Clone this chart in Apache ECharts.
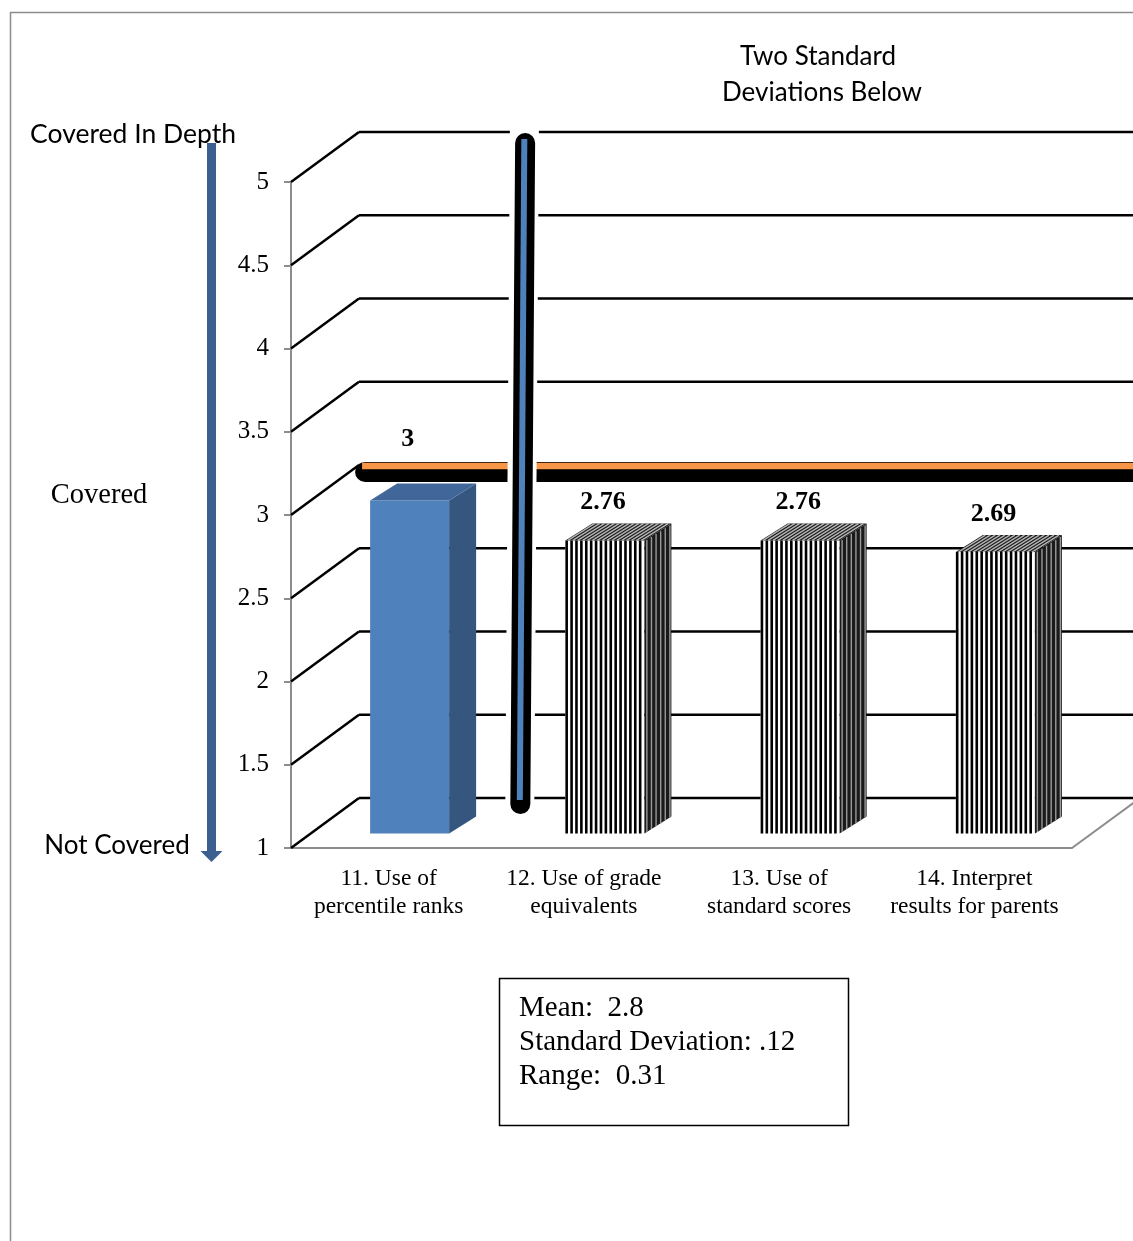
<!DOCTYPE html>
<html>
<head>
<meta charset="utf-8">
<script src="https://cdn.jsdelivr.net/npm/echarts@6/dist/echarts.min.js"></script>
<style>
  html, body { margin: 0; padding: 0; background: #fff; }
  #chart { width: 1133px; height: 1241px; }
</style>
</head>
<body>
<div id="chart"></div>
<script>
// ---------------- data ----------------
const categories = [
  '11. Use of\npercentile ranks',
  '12. Use of grade\nequivalents',
  '13. Use of\nstandard scores',
  '14. Interpret\nresults for parents'
];
const values = [3, 2.76, 2.76, 2.69];
const valueLabels = ['3', '2.76', '2.76', '2.69'];
const yTickValues = [1, 1.5, 2, 2.5, 3, 3.5, 4, 4.5, 5];
const yMin = 1, yMax = 5, yInterval = 0.5;
// annotation lines in data units (x on a continuous category scale, y on value scale)
const cutoffLine = [[-0.136, 3.294], [3.90, 3.294]];
const markerLine = [[0.695, 5.258], [0.672, 1.288]];
const statsLines = ['Mean:  2.8', 'Standard Deviation: .12', 'Range:  0.31'];
const titleLines = ['Two Standard', 'Deviations Below'];

// ---------------- style constants ----------------
const SERIF = '"Liberation Serif", "Times New Roman", serif';
const SANS = 'Lato, "Open Sans", sans-serif';
const DEPTH_DX = 68, DEPTH_DY = -50;
const BAR_SHIFT_X = 21, BAR_SHIFT_Y = -14.5, BAR_W = 79;
const SIDE_DX = 27, SIDE_DY = -17;
const LABEL_GAP = 38;
const labelLift = [23, 0, 0, 0];
const barKinds = ['solid', 'hatch', 'hatch', 'hatch'];

const chart = echarts.init(document.getElementById('chart'), null, { renderer: 'canvas' });

function gridRender(params, api) {
  const v = api.value(0);
  const cs = params.coordSys;
  const y = api.coord([0, v])[1];
  const x0 = cs.x;
  const children = [
    { type: 'line', shape: { x1: x0, y1: y, x2: x0 + DEPTH_DX, y2: y + DEPTH_DY },
      style: { stroke: '#000', lineWidth: 2.5 } },
    { type: 'line', shape: { x1: x0 + DEPTH_DX, y1: y + DEPTH_DY, x2: cs.x + cs.width + 90, y2: y + DEPTH_DY },
      style: { stroke: '#000', lineWidth: 2.5 } }
  ];
  if (params.dataIndex === 0) {
    const xr = cs.x + cs.width;
    children.push({ type: 'line', shape: { x1: xr, y1: y, x2: xr + DEPTH_DX, y2: y + DEPTH_DY },
      style: { stroke: '#8c8c8c', lineWidth: 2 } });
  }
  return { type: 'group', children };
}

function barRender(params, api) {
  const i = api.value(0), v = api.value(1);
  const top = api.coord([i, v]);
  const base = api.coord([i, yMin]);
  const cx = top[0] + BAR_SHIFT_X;
  const x0 = cx - BAR_W / 2, x1 = cx + BAR_W / 2;
  const yt = top[1] + BAR_SHIFT_Y, yb = base[1] + BAR_SHIFT_Y;
  const children = [];
  const sidePts = [[x1, yt], [x1 + SIDE_DX, yt + SIDE_DY], [x1 + SIDE_DX, yb + SIDE_DY], [x1, yb]];
  const topPts = [[x0, yt], [x0 + SIDE_DX, yt + SIDE_DY], [x1 + SIDE_DX, yt + SIDE_DY], [x1, yt]];
  if (barKinds[i] === 'solid') {
    children.push({ type: 'rect', shape: { x: x0, y: yt, width: BAR_W, height: yb - yt }, style: { fill: '#4F81BD' } });
    children.push({ type: 'polygon', shape: { points: sidePts }, style: { fill: '#34567F' } });
    children.push({ type: 'polygon', shape: { points: topPts }, style: { fill: '#41679A' } });
  } else {
    children.push({ type: 'rect', shape: { x: x0, y: yt, width: BAR_W, height: yb - yt }, style: { fill: '#fff' } });
    for (let x = x0 + 1.3; x < x1; x += 4.9) {
      children.push({ type: 'line', shape: { x1: x, y1: yt, x2: x, y2: yb }, style: { stroke: '#000', lineWidth: 2.6 } });
    }
    children.push({ type: 'polygon', shape: { points: sidePts }, style: { fill: '#1a1a1a' } });
    const slope = SIDE_DY / SIDE_DX;
    for (let x = x1 + 2.5; x < x1 + SIDE_DX - 1; x += 4.6) {
      const d = (x - x1) * slope;
      children.push({ type: 'line', shape: { x1: x, y1: yt + d + 1, x2: x, y2: yb + d }, style: { stroke: '#9a9a9a', lineWidth: 1.4 } });
    }
    children.push({ type: 'polygon', shape: { points: topPts }, style: { fill: '#1a1a1a' } });
    for (let x = x0 + 2.5; x < x1; x += 4.9) {
      children.push({ type: 'line', shape: { x1: x, y1: yt, x2: x + SIDE_DX, y2: yt + SIDE_DY }, style: { stroke: '#b5b5b5', lineWidth: 1.4 } });
    }
  }
  children.push({
    type: 'text',
    style: {
      x: cx - 2, y: yt - LABEL_GAP - labelLift[i],
      text: valueLabels[i], align: 'center', verticalAlign: 'middle',
      font: 'bold 26px ' + SERIF, fill: '#000'
    }
  });
  return { type: 'group', children };
}

function annotRender(params, api) {
  const a0 = api.coord(cutoffLine[0]), a1 = api.coord(cutoffLine[1]);
  const b0 = api.coord(markerLine[0]), b1 = api.coord(markerLine[1]);
  const len = Math.hypot(b1[0] - b0[0], b1[1] - b0[1]);
  const ux = (b1[0] - b0[0]) / len, uy = (b1[1] - b0[1]) / len;
  return {
    type: 'group',
    children: [
      { type: 'line', shape: { x1: a0[0] + 3, y1: a0[1] + 6, x2: a1[0] + 3, y2: a1[1] + 6 },
        style: { stroke: '#000', lineWidth: 20, lineCap: 'round' } },
      { type: 'line', shape: { x1: a0[0], y1: a0[1], x2: a1[0], y2: a1[1] },
        style: { stroke: '#F79646', lineWidth: 6.5, lineCap: 'butt' } },
      { type: 'line', shape: { x1: b0[0] - ux * 14, y1: b0[1] - uy * 14, x2: b1[0] + ux * 20, y2: b1[1] + uy * 20 },
        style: { stroke: '#fff', lineWidth: 29, lineCap: 'butt' } },
      { type: 'line', shape: { x1: b0[0] + 0.8, y1: b0[1] + 4, x2: b1[0] + 0.5, y2: b1[1] + 4 },
        style: { stroke: '#000', lineWidth: 20, lineCap: 'round' } },
      { type: 'line', shape: { x1: b0[0], y1: b0[1], x2: b1[0], y2: b1[1] },
        style: { stroke: '#4F81BD', lineWidth: 6, lineCap: 'butt' } }
    ]
  };
}

const option = {
  backgroundColor: '#fff',
  animation: false,
  grid: { left: 291, right: 61, top: 182, bottom: 393, containLabel: false, outerBoundsMode: 'none' },
  xAxis: [
    {
      type: 'category', data: categories, boundaryGap: true,
      axisLine: { show: true, onZero: false, lineStyle: { color: '#8c8c8c', width: 2 } },
      axisTick: { show: false },
      axisLabel: { interval: 0, margin: 17, fontFamily: SERIF, fontSize: 23.5, lineHeight: 28, color: '#000', hideOverlap: false },
      splitLine: { show: false }
    },
    { type: 'value', min: -0.5, max: 3.5, show: false }
  ],
  yAxis: {
    type: 'value', min: yMin, max: yMax, interval: yInterval,
    axisLine: { show: true, onZero: false, lineStyle: { color: '#8c8c8c', width: 2 } },
    axisTick: { show: true, length: 7, lineStyle: { color: '#8c8c8c', width: 2 } },
    axisLabel: { margin: 22, fontFamily: SERIF, fontSize: 25, color: '#000', padding: [5, 0, 0, 0] },
    splitLine: { show: false }
  },
  series: [
    { type: 'custom', name: 'grid', xAxisIndex: 0, yAxisIndex: 0, z: 1, silent: true,
      data: yTickValues.map(v => [v]), encode: { y: 0 }, renderItem: gridRender },
    { type: 'custom', name: 'bars', xAxisIndex: 0, yAxisIndex: 0, z: 2,
      data: values.map((v, i) => [i, v]), encode: { x: 0, y: 1 }, renderItem: barRender },
    { type: 'custom', name: 'annot', xAxisIndex: 1, yAxisIndex: 0, z: 3, silent: true,
      data: [[0, yMin]], encode: { x: 0, y: 1 }, renderItem: annotRender }
  ],
  graphic: [
    { type: 'rect', shape: { x: 10.5, y: 12.5, width: 1300, height: 1400 }, style: { fill: null, stroke: '#8c8c8c', lineWidth: 1.5 }, z: 0 },
    { type: 'text', style: { x: 818, y: 57, text: titleLines[0], align: 'center', verticalAlign: 'middle', font: '26px ' + SANS, fill: '#000' } },
    { type: 'text', style: { x: 822, y: 93, text: titleLines[1], align: 'center', verticalAlign: 'middle', font: '26px ' + SANS, fill: '#000' } },
    { type: 'text', style: { x: 133, y: 134, text: 'Covered In Depth', align: 'center', verticalAlign: 'middle', font: '26.5px ' + SANS, fill: '#000' } },
    { type: 'text', style: { x: 99, y: 496, text: 'Covered', align: 'center', verticalAlign: 'middle', font: '28.5px ' + SERIF, fill: '#000' } },
    { type: 'text', style: { x: 117, y: 846, text: 'Not Covered', align: 'center', verticalAlign: 'middle', font: '26px ' + SANS, fill: '#000' } },
    { type: 'rect', shape: { x: 207, y: 143, width: 9, height: 709 }, style: { fill: '#3B5F8E' } },
    { type: 'polygon', shape: { points: [[200.5, 851], [222.5, 851], [211.5, 862]] }, style: { fill: '#3B5F8E' } },
    { type: 'rect', shape: { x: 499.5, y: 978.5, width: 349, height: 147 }, style: { fill: '#fff', stroke: '#000', lineWidth: 1.5 } },
    { type: 'text', style: { x: 519, y: 1008, text: statsLines[0], align: 'left', verticalAlign: 'middle', font: '29px ' + SERIF, fill: '#000' } },
    { type: 'text', style: { x: 519, y: 1042, text: statsLines[1], align: 'left', verticalAlign: 'middle', font: '29px ' + SERIF, fill: '#000' } },
    { type: 'text', style: { x: 519, y: 1076, text: statsLines[2], align: 'left', verticalAlign: 'middle', font: '29px ' + SERIF, fill: '#000' } }
  ]
};
chart.setOption(option);
</script>
</body>
</html>
